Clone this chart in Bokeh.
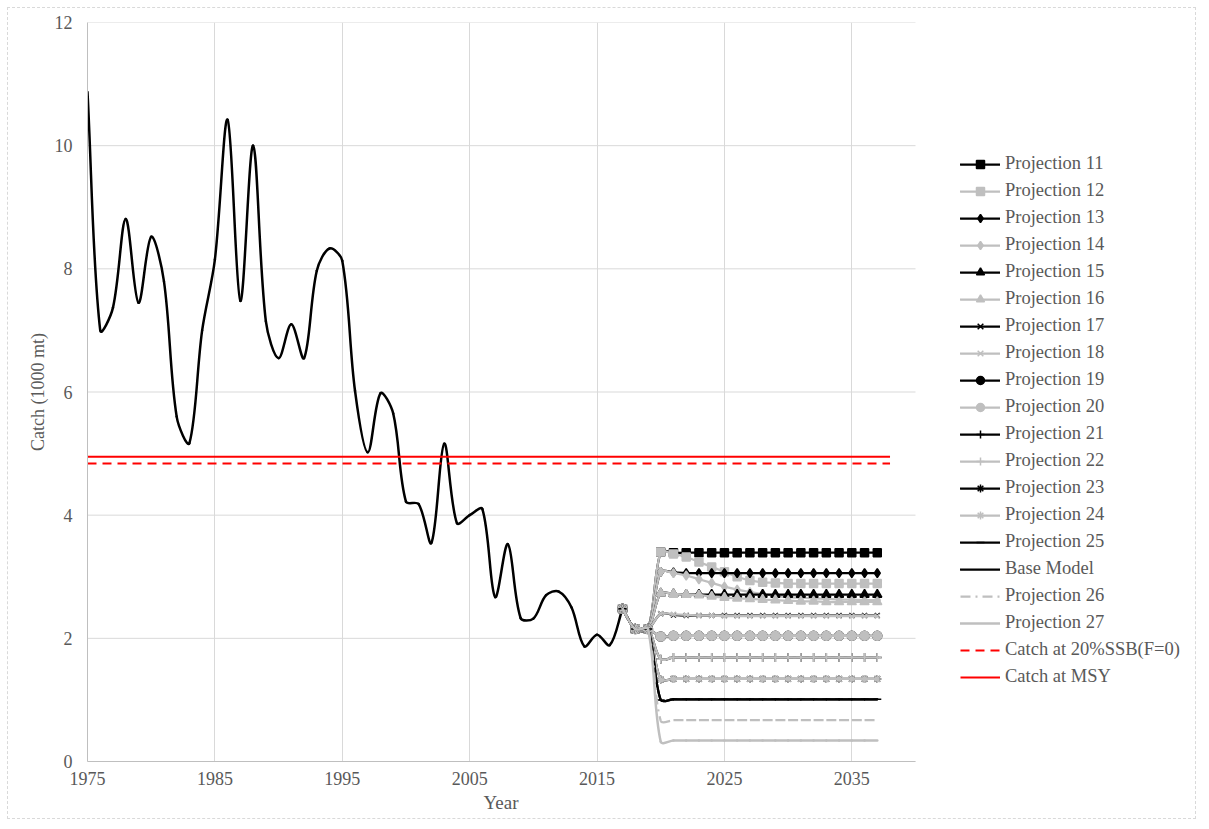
from bokeh.plotting import figure
from bokeh.models import Legend, LegendItem, ColumnDataSource, Range1d, FixedTicker, Title
from bokeh.embed import file_html
from bokeh.resources import INLINE

# ---------------- data ----------------
hist_years = list(range(1975, 2018))
hist_catch = [10.87, 7.00, 7.37, 8.81, 7.45, 8.52, 7.80, 5.60, 5.17, 7.00,
              8.15, 10.42, 7.48, 10.00, 7.15, 6.55, 7.10, 6.55, 7.97, 8.33,
              8.13, 6.02, 5.02, 5.98, 5.65, 4.22, 4.18, 3.55, 5.16, 3.87,
              4.00, 4.10, 2.67, 3.53, 2.33, 2.32, 2.70, 2.76, 2.50, 1.87,
              2.06, 1.89, 2.48]

proj_years = list(range(2017, 2038))
proj11 = [2.48, 2.15, 2.15, 3.40, 3.39, 3.39, 3.39, 3.39, 3.39, 3.39, 3.39,
          3.39, 3.39, 3.39, 3.39, 3.39, 3.39, 3.39, 3.39, 3.39, 3.39]
proj12 = [2.48, 2.15, 2.15, 3.40, 3.37, 3.32, 3.24, 3.16, 3.08, 3.00, 2.94,
          2.91, 2.90, 2.89, 2.89, 2.89, 2.89, 2.89, 2.89, 2.89, 2.89]
proj13 = [2.48, 2.15, 2.15, 3.08, 3.07, 3.06, 3.06, 3.06, 3.06, 3.06, 3.06,
          3.06, 3.06, 3.06, 3.06, 3.06, 3.06, 3.06, 3.06, 3.06, 3.06]
proj14 = [2.48, 2.15, 2.15, 3.08, 3.06, 3.02, 2.96, 2.90, 2.84, 2.79, 2.75,
          2.72, 2.69, 2.67, 2.66, 2.65, 2.64, 2.63, 2.63, 2.62, 2.62]
proj15 = [2.48, 2.15, 2.15, 2.73, 2.72, 2.71, 2.71, 2.71, 2.71, 2.71, 2.71,
          2.71, 2.71, 2.71, 2.71, 2.71, 2.71, 2.71, 2.71, 2.71, 2.71]
proj16 = [2.48, 2.15, 2.15, 2.73, 2.72, 2.71, 2.70, 2.68, 2.66, 2.65, 2.64,
          2.63, 2.62, 2.61, 2.60, 2.60, 2.59, 2.59, 2.59, 2.59, 2.59]
proj17 = [2.48, 2.15, 2.15, 2.40, 2.38, 2.37, 2.37, 2.37, 2.37, 2.37, 2.37,
          2.37, 2.37, 2.37, 2.37, 2.37, 2.37, 2.37, 2.37, 2.37, 2.37]
proj18 = [2.48, 2.15, 2.15, 2.40, 2.39, 2.38, 2.37, 2.37, 2.36, 2.36, 2.36,
          2.36, 2.36, 2.36, 2.36, 2.36, 2.36, 2.36, 2.36, 2.36, 2.36]
proj19 = [2.48, 2.15, 2.15, 2.03, 2.04, 2.04, 2.04, 2.04, 2.04, 2.04, 2.04,
          2.04, 2.04, 2.04, 2.04, 2.04, 2.04, 2.04, 2.04, 2.04, 2.04]
proj20 = [2.48, 2.15, 2.15, 2.03, 2.04, 2.04, 2.04, 2.04, 2.04, 2.04, 2.04,
          2.04, 2.04, 2.04, 2.04, 2.04, 2.04, 2.04, 2.04, 2.04, 2.04]
proj21 = [2.48, 2.15, 2.15, 1.66, 1.69, 1.69, 1.69, 1.69, 1.69, 1.69, 1.69,
          1.69, 1.69, 1.69, 1.69, 1.69, 1.69, 1.69, 1.69, 1.69, 1.69]
proj22 = [2.48, 2.15, 2.15, 1.66, 1.69, 1.69, 1.69, 1.69, 1.69, 1.69, 1.69,
          1.69, 1.69, 1.69, 1.69, 1.69, 1.69, 1.69, 1.69, 1.69, 1.69]
proj23 = [2.48, 2.15, 2.15, 1.33, 1.34, 1.34, 1.34, 1.34, 1.34, 1.34, 1.34,
          1.34, 1.34, 1.34, 1.34, 1.34, 1.34, 1.34, 1.34, 1.34, 1.34]
proj24 = [2.48, 2.15, 2.15, 1.33, 1.34, 1.34, 1.34, 1.34, 1.34, 1.34, 1.34,
          1.34, 1.34, 1.34, 1.34, 1.34, 1.34, 1.34, 1.34, 1.34, 1.34]
proj25 = [2.48, 2.15, 2.15, 1.00, 1.01, 1.01, 1.01, 1.01, 1.01, 1.01, 1.01,
          1.01, 1.01, 1.01, 1.01, 1.01, 1.01, 1.01, 1.01, 1.01, 1.01]
base_model = [2.48, 2.15, 2.15, 1.00, 1.01, 1.01, 1.01, 1.01, 1.01, 1.01, 1.01,
              1.01, 1.01, 1.01, 1.01, 1.01, 1.01, 1.01, 1.01, 1.01, 1.01]
proj26 = [2.48, 2.15, 2.15, 0.66, 0.67, 0.67, 0.67, 0.67, 0.67, 0.67, 0.67,
          0.67, 0.67, 0.67, 0.67, 0.67, 0.67, 0.67, 0.67, 0.67, 0.67]
proj27 = [2.48, 2.15, 2.15, 0.32, 0.34, 0.34, 0.34, 0.34, 0.34, 0.34, 0.34,
          0.34, 0.34, 0.34, 0.34, 0.34, 0.34, 0.34, 0.34, 0.34, 0.34]

ref_years = [1975, 2038]
catch_20ssb = [4.84, 4.84]
catch_msy = [4.95, 4.95]

x_ticks = [1975, 1985, 1995, 2005, 2015, 2025, 2035]
y_ticks = [0, 2, 4, 6, 8, 10, 12]
x_axis_start, x_axis_end = 1975, 2040
y_axis_start, y_axis_end = 0, 12

# ---------------- layout ----------------
BLACK = "#000000"
GRAY = "#bfbfbf"
TXT = "#595959"
FONT = "Liberation Serif"

W, H = 1189, 812
BORDER_L, BORDER_R, BORDER_T, BORDER_B = 79, 0, 14, 59
PLOT_AREA_W = 828                      # px used by the 1975-2040 axis
FRAME_W = W - BORDER_L - BORDER_R      # frame also holds the legend on its right
x_range_end = x_axis_start + (x_axis_end - x_axis_start) * FRAME_W / PLOT_AREA_W

PX_PER_YEAR = PLOT_AREA_W / (x_axis_end - x_axis_start)  # smoothing weights only
PX_PER_UNIT = 739 / (y_axis_end - y_axis_start)


def smooth_source(xs, ys, f=1.0 / 3.0):
    """Bezier segments through the data points (Excel-like smoothed line)."""
    n = len(xs)
    P = [(x, y) for x, y in zip(xs, ys)]

    def dist(a, b):
        return (((a[0] - b[0]) * PX_PER_YEAR) ** 2 + ((a[1] - b[1]) * PX_PER_UNIT) ** 2) ** 0.5

    cin, cout = [], []
    for i in range(n):
        prv = P[i - 1] if i > 0 else P[i]
        nxt = P[i + 1] if i < n - 1 else P[i]
        tx, ty = nxt[0] - prv[0], nxt[1] - prv[1]
        d1, d2 = dist(prv, P[i]), dist(P[i], nxt)
        s = d1 + d2 if d1 + d2 > 0 else 1.0
        cout.append((P[i][0] + tx * f * d2 / s, P[i][1] + ty * f * d2 / s))
        cin.append((P[i][0] - tx * f * d1 / s, P[i][1] - ty * f * d1 / s))
    d = dict(x0=[], y0=[], x1=[], y1=[], cx0=[], cy0=[], cx1=[], cy1=[])
    for i in range(n - 1):
        d["x0"].append(P[i][0]); d["y0"].append(P[i][1])
        d["x1"].append(P[i + 1][0]); d["y1"].append(P[i + 1][1])
        d["cx0"].append(cout[i][0]); d["cy0"].append(cout[i][1])
        d["cx1"].append(cin[i + 1][0]); d["cy1"].append(cin[i + 1][1])
    return ColumnDataSource(d)


p = figure(width=W, height=H,
           x_range=Range1d(x_axis_start, x_range_end), y_range=Range1d(y_axis_start, y_axis_end),
           output_backend="svg", toolbar_location=None,
           min_border_left=BORDER_L, min_border_right=BORDER_R,
           min_border_top=BORDER_T, min_border_bottom=BORDER_B)
p.styles = {"margin": "7px", "border": "1px dashed #d9d9d9"}
p.outline_line_color = None
p.background_fill_color = "white"
p.border_fill_color = "white"

# horizontal gridlines limited to the plot area (the legend sits to their right)
p.ygrid.visible = False
p.segment(x0=[x_axis_start] * len(y_ticks), x1=[x_axis_end] * len(y_ticks),
          y0=y_ticks, y1=y_ticks, line_color="#d9d9d9", line_width=1)

# axes
p.xaxis.ticker = FixedTicker(ticks=x_ticks)
p.yaxis.ticker = FixedTicker(ticks=y_ticks)
p.xaxis.bounds = (x_axis_start, x_axis_end)
for ax in (p.xaxis[0], p.yaxis[0]):
    ax.axis_line_color = "#bfbfbf"
    ax.axis_line_width = 1
    ax.major_tick_line_color = None
    ax.major_tick_out = 0
    ax.major_tick_in = 0
    ax.minor_tick_line_color = None
    ax.minor_tick_out = 0
    ax.major_label_text_font = FONT
    ax.major_label_text_font_size = "18px"
    ax.major_label_text_color = TXT
    ax.axis_label_text_font = FONT
    ax.axis_label_text_font_style = "normal"
    ax.axis_label_text_color = TXT
p.xaxis.major_label_standoff = 10
p.yaxis.axis_label = "Catch (1000 mt)"
p.yaxis.axis_label_text_font_size = "18px"
p.yaxis.major_label_standoff = 15
p.yaxis.axis_label_standoff = 4

# x-axis title centred under the 1975-2040 plot area
year_title = Title(text="Year", align="left", offset=PLOT_AREA_W / 2 - 18,
                   text_font=FONT, text_font_size="19px", text_font_style="normal",
                   text_color=TXT, standoff=5)
p.add_layout(year_title, "below")

p.xgrid.ticker = FixedTicker(ticks=x_ticks)
p.xgrid.grid_line_color = "#d9d9d9"
p.xgrid.grid_line_width = 1

# historical catch
p.bezier(x0="x0", y0="y0", x1="x1", y1="y1", cx0="cx0", cy0="cy0", cx1="cx1", cy1="cy1",
         source=smooth_source(hist_years, hist_catch),
         line_color=BLACK, line_width=2.5, line_cap="round")

series = [
    ("Projection 11", proj11, BLACK, "square", 8, 2.25),
    ("Projection 12", proj12, GRAY, "square", 8, 2.25),
    ("Projection 13", proj13, BLACK, "diamond", 9, 2.25),
    ("Projection 14", proj14, GRAY, "diamond", 9, 2.25),
    ("Projection 15", proj15, BLACK, "triangle", 9, 2.25),
    ("Projection 16", proj16, GRAY, "triangle", 9, 2.25),
    ("Projection 17", proj17, BLACK, "x", 7, 2.25),
    ("Projection 18", proj18, GRAY, "x", 7, 2.25),
    ("Projection 19", proj19, BLACK, "circle", 9, 2.25),
    ("Projection 20", proj20, GRAY, "circle", 9, 2.25),
    ("Projection 21", proj21, BLACK, "cross", 9, 2.25),
    ("Projection 22", proj22, GRAY, "cross", 9, 2.25),
    ("Projection 23", proj23, BLACK, "asterisk", 8, 2.25),
    ("Projection 24", proj24, GRAY, "asterisk", 8, 2.25),
    ("Projection 25", proj25, BLACK, "dash", 8, 2.25),
    ("Base Model", base_model, BLACK, None, 0, 2.25),
    ("Projection 26", proj26, GRAY, None, 0, 2.25),
    ("Projection 27", proj27, GRAY, None, 0, 2.5),
]

items = []
for name, vals, col, marker, msize, lw in series:
    dash = "10 5 2 5" if name == "Projection 26" else "solid"
    r_line = p.bezier(x0="x0", y0="y0", x1="x1", y1="y1", cx0="cx0", cy0="cy0",
                      cx1="cx1", cy1="cy1", source=smooth_source(proj_years, vals),
                      line_color=col, line_width=lw,
                      line_cap="round" if dash == "solid" else "butt",
                      line_dash=dash)
    rends = [r_line]
    if marker is not None:
        r_m = p.scatter(proj_years, vals, marker=marker, size=msize,
                        fill_color=col, line_color=col, line_width=1.5)
        rends.append(r_m)
    items.append(LegendItem(label=name, renderers=rends))

r_ssb = p.line(ref_years, catch_20ssb, line_color="#ff0000", line_width=2, line_dash="9 6")
r_msy = p.line(ref_years, catch_msy, line_color="#ff0000", line_width=2)
items.append(LegendItem(label="Catch at 20%SSB(F=0)", renderers=[r_ssb]))
items.append(LegendItem(label="Catch at MSY", renderers=[r_msy]))

legend = Legend(items=items, location=(PLOT_AREA_W + 45, 74), ncols=1)
legend.label_text_font = FONT
legend.label_text_font_size = "18.5px"
legend.label_text_color = TXT
legend.glyph_width = 40
legend.glyph_height = 20
legend.label_height = 20
legend.spacing = 6
legend.label_standoff = 5
legend.padding = 0
legend.margin = 0
legend.border_line_color = None
legend.background_fill_alpha = 0
p.add_layout(legend)

open("out.html", "w").write(file_html(p, INLINE))
